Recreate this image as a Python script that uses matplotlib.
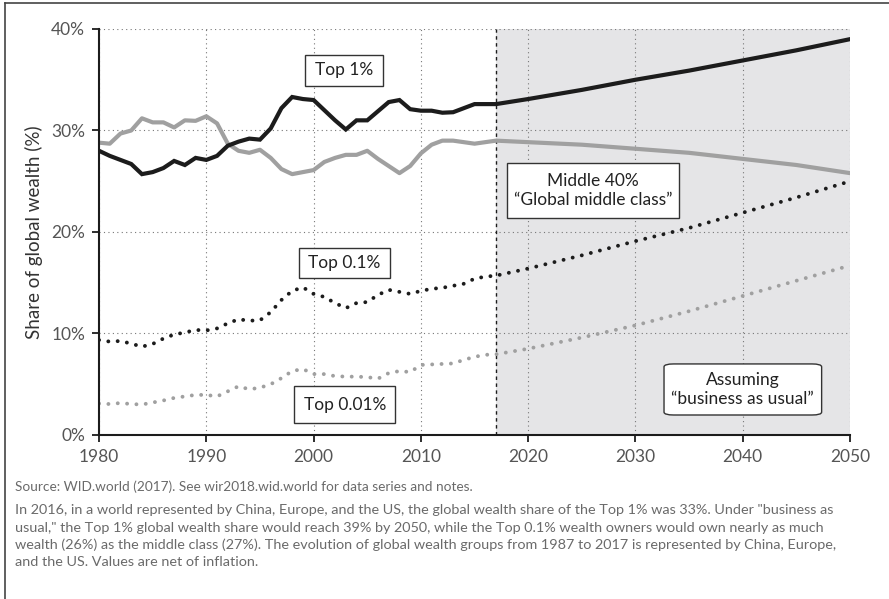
import numpy as np
import matplotlib
matplotlib.use("Agg")
import matplotlib.pyplot as plt
from matplotlib.patches import FancyBboxPatch
from matplotlib.lines import Line2D

plt.rcParams['font.family'] = ['Lato', 'DejaVu Sans']

# observed series, 1980-2017
years = list(range(1980, 2018))
top1 = [28.0, 27.5, 27.1, 26.7, 25.7, 25.9, 26.3, 27.0, 26.6, 27.3,
        27.1, 27.5, 28.5, 28.9, 29.2, 29.1, 30.2, 32.2, 33.3, 33.1,
        33.0, 32.0, 31.0, 30.1, 31.0, 31.0, 31.9, 32.8, 33.0, 32.1,
        31.95, 31.95, 31.75, 31.8, 32.2, 32.6, 32.6, 32.6]
middle40 = [28.8, 28.7, 29.7, 30.0, 31.2, 30.8, 30.8, 30.3, 31.0, 30.95,
            31.4, 30.7, 28.7, 28.0, 27.8, 28.1, 27.3, 26.2, 25.7, 25.9,
            26.1, 26.9, 27.3, 27.6, 27.6, 28.0, 27.2, 26.5, 25.8, 26.5,
            27.75, 28.6, 29.0, 29.0, 28.85, 28.7, 28.85, 29.0]
top01 = [9.36, 9.2, 9.26, 9.0, 8.7, 8.97, 9.5, 9.9, 10.1, 10.35,
         10.3, 10.5, 11.0, 11.4, 11.26, 11.3, 12.1, 13.3, 14.2, 14.55,
         13.9, 13.6, 13.0, 12.5, 13.0, 13.1, 13.8, 14.3, 14.1, 13.9,
         14.2, 14.4, 14.5, 14.7, 14.9, 15.4, 15.6, 15.7]
top001 = [3.1, 3.05, 3.15, 3.05, 3.0, 3.2, 3.4, 3.65, 3.8, 3.95,
          3.95, 3.8, 4.3, 4.8, 4.5, 4.66, 5.0, 5.6, 6.3, 6.5,
          6.0, 6.0, 5.8, 5.75, 5.75, 5.7, 5.55, 6.1, 6.3, 6.2,
          6.9, 6.95, 7.0, 7.05, 7.4, 7.7, 7.9, 7.95]

# "business as usual" projection
proj_years = [2020, 2025, 2030, 2035, 2040, 2045, 2050]
top1_proj = [33.1, 34.0, 35.0, 35.9, 36.9, 37.9, 39.0]
middle40_proj = [28.85, 28.6, 28.2, 27.8, 27.2, 26.6, 25.8]
top01_proj = [16.4, 17.7, 19.1, 20.4, 21.9, 23.4, 25.0]
top001_proj = [8.5, 9.6, 10.8, 12.2, 13.7, 15.2, 16.7]

proj_start = 2017
x_ticks = [1980, 1990, 2000, 2010, 2020, 2030, 2040, 2050]
y_ticks = [0, 10, 20, 30, 40]

BLACK = '#1c1c1c'
GREY = '#a0a0a0'

fig = plt.figure(figsize=(8.89, 5.99), dpi=100)
ax = fig.add_axes([0.1114, 0.2738, 0.8448, 0.6778])

all_years = years + proj_years
ax.axvspan(proj_start, 2050, color='#e5e5e7', zorder=0, lw=0)
ax.axvline(proj_start, color=BLACK, lw=1.0, ls=(0, (2.5, 2.5)), zorder=1)

dot = (0, (0.01, 2.4))
ax.plot(all_years, top1 + top1_proj, color=BLACK, lw=3.0, zorder=4,
        solid_joinstyle='miter')
ax.plot(all_years, middle40 + middle40_proj, color=GREY, lw=3.0, zorder=3)
ax.plot(all_years, top01 + top01_proj, color=BLACK, lw=2.8, ls=dot,
        dash_capstyle='round', zorder=4)
ax.plot(all_years, top001 + top001_proj, color=GREY, lw=2.8, ls=dot,
        dash_capstyle='round', zorder=3)

ax.set_xlim(1980, 2050)
ax.set_ylim(0, 40)
ax.set_xticks(x_ticks)
ax.set_yticks(y_ticks)
ax.set_yticklabels([f'{v}%' for v in y_ticks])
ax.grid(True, color='#777777', lw=0.8, ls=(0, (1, 3)), zorder=1)
ax.set_axisbelow(True)
for s in ['top', 'right']:
    ax.spines[s].set_visible(False)
for s in ['left', 'bottom']:
    ax.spines[s].set_linewidth(1.5)
    ax.spines[s].set_color(BLACK)
    ax.spines[s].set_zorder(5)
ax.tick_params(direction='out', length=5, width=1.3, color=BLACK,
               labelsize=12.5, labelcolor='#555555', pad=5)
ax.set_ylabel('Share of global wealth (%)', fontsize=13.5, color='#333333',
              labelpad=6)


def label_box(x0, x1, y0, y1, text, rounded=False):
    style = 'round,pad=0,rounding_size=0.9' if rounded else 'square,pad=0'
    box = FancyBboxPatch((x0, y0), x1 - x0, y1 - y0, boxstyle=style,
                         facecolor='white', edgecolor='#333333', lw=1.0,
                         zorder=6, mutation_aspect=40 / 70 * 0.55)
    ax.add_patch(box)
    ax.text((x0 + x1) / 2, (y0 + y1) / 2, text, ha='center', va='center',
            fontsize=12.5, color='#222222', zorder=7, linespacing=1.2)


label_box(1999.2, 2006.5, 34.4, 37.45, 'Top 1%')
label_box(2018.05, 2034.1, 21.35, 26.83, 'Middle 40%\n\u201cGlobal middle class\u201d')
label_box(1998.6, 2007.1, 15.44, 18.42, 'Top 0.1%')
label_box(1998.2, 2007.6, 1.15, 4.83, 'Top 0.01%')
label_box(2032.66, 2047.35, 1.97, 7.0, 'Assuming\n\u201cbusiness as usual\u201d',
          rounded=True)

# frame lines of the figure
fig.add_artist(Line2D([5 / 889, 5 / 889], [0, 1 - 3 / 599], color='#444444', lw=1.2))
fig.add_artist(Line2D([5 / 889, 1], [1 - 3 / 599, 1 - 3 / 599], color='#444444', lw=1.2))

note_color = '#6a6a6a'
fig.text(15 / 889, 1 - 487 / 599,
         'Source: WID.world (2017). See wir2018.wid.world for data series and notes.',
         fontsize=9.8, color=note_color, va='center')
note_lines = [
    'In 2016, in a world represented by China, Europe, and the US, the global wealth share of the Top 1% was 33%. Under "business as',
    'usual," the Top 1% global wealth share would reach 39% by 2050, while the Top 0.1% wealth owners would own nearly as much',
    'wealth (26%) as the middle class (27%). The evolution of global wealth groups from 1987 to 2017 is represented by China, Europe,',
    'and the US. Values are net of inflation.',
]
for i, line in enumerate(note_lines):
    fig.text(15 / 889, 1 - (510 + i * 17.5) / 599, line, fontsize=10.4,
             color=note_color, va='center')

fig.savefig('out.png', dpi=100)
